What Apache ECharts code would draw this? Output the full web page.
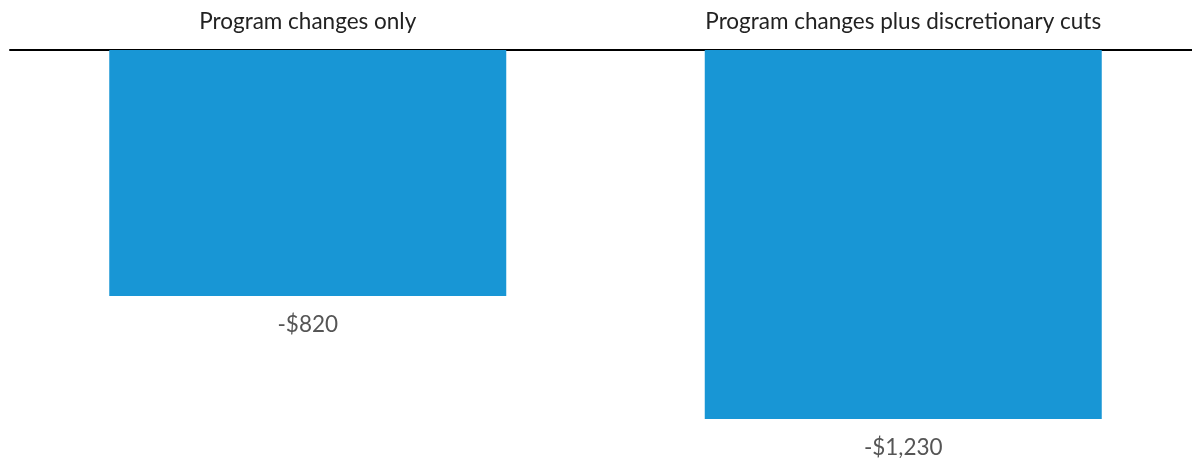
<!DOCTYPE html>
<html>
<head>
<meta charset="utf-8">
<script src="https://cdn.jsdelivr.net/npm/echarts@6/dist/echarts.min.js"></script>
<style>html,body{margin:0;padding:0;background:#fff}#c{width:1192px;height:458px}</style>
</head>
<body>
<div id="c"></div>
<script>
const categories = ['Program changes only', 'Program changes plus discretionary cuts'];
const values = [-820, -1230];
const valueLabels = ['-$820', '-$1,230'];

const chart = echarts.init(document.getElementById('c'));
chart.setOption({
  animation: false,
  grid: { left: 10, width: 1191, top: 50, height: 408, outerBoundsMode: 'none', containLabel: false },
  xAxis: {
    type: 'category',
    position: 'top',
    data: categories,
    axisLine: { show: true, lineStyle: { color: '#000', width: 2 } },
    axisTick: { show: false },
    axisLabel: { color: '#222', fontFamily: 'Lato', fontSize: 22.5, margin: 17 }
  },
  yAxis: {
    type: 'value',
    min: -1360, max: 0,
    show: false,
    splitLine: { show: false }
  },
  series: [{
    type: 'bar',
    data: values,
    barWidth: 397,
    itemStyle: { color: '#1896d5' },
    label: {
      show: true,
      position: 'bottom',
      distance: 17,
      color: '#555',
      fontFamily: 'Lato',
      fontSize: 22.5,
      formatter: p => valueLabels[p.dataIndex]
    }
  }]
});
</script>
</body>
</html>
